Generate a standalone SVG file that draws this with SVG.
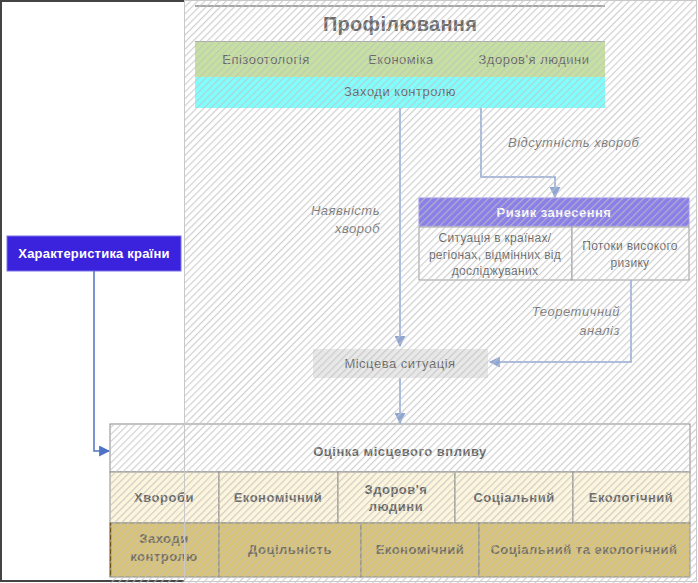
<svg xmlns="http://www.w3.org/2000/svg" width="698" height="583" viewBox="0 0 698 583">
<defs>
<pattern id="hatch" width="5" height="5" patternUnits="userSpaceOnUse" patternTransform="rotate(45)">
<line x1="0.6" y1="0" x2="0.6" y2="5" stroke="#c0c0c0" stroke-width="1.2" opacity="0.75"/>
</pattern>
<marker id="arr" viewBox="0 0 10 10" refX="9" refY="5" markerWidth="11" markerHeight="11" markerUnits="userSpaceOnUse" orient="auto">
<path d="M0,0 L10,5 L0,10 Z" fill="#8ea6d6"/>
</marker>
<marker id="arrD" viewBox="0 0 10 10" refX="9" refY="5" markerWidth="11" markerHeight="11" markerUnits="userSpaceOnUse" orient="auto">
<path d="M0,0 L10,5 L0,10 Z" fill="#4f73c4"/>
</marker>
<clipPath id="hclip">
<rect x="184" y="0" width="513" height="583"/>
<rect x="110" y="424" width="580" height="159"/>
</clipPath>
<style>
text{font-family:"Liberation Sans",Arial,sans-serif;fill:#666;letter-spacing:0.5px;}
.t{font-size:13px;text-anchor:middle;}
.s{font-size:12px;text-anchor:middle;letter-spacing:0.3px;}
.b{font-size:13px;font-weight:bold;text-anchor:middle;}
.i{font-size:13px;font-style:italic;fill:#777;}
.c{stroke:#8ea6d6;stroke-width:1.5;fill:none;}
.cell{stroke:#8c8c8c;stroke-width:1;}
.cr{fill:#fdf5dc;}
.gd{fill:#d9c377;}
.gt{fill:#77705e;}
</style>
</defs>
<rect x="0" y="0" width="698" height="583" fill="#fff"/>
<!-- left frame -->
<path d="M184,1 H1 V581 H184" fill="none" stroke="#444" stroke-width="2"/>

<g id="profiling">
<line x1="195" y1="6" x2="605" y2="6" stroke="#888" stroke-width="1.5"/>
<text x="400" y="31" style="font-size:20px;font-weight:bold;text-anchor:middle;fill:#6a6a6a;letter-spacing:0.3px">Профілювання</text>
<rect x="195" y="41" width="410" height="36" fill="#c5e0a0"/>
<line x1="195" y1="41.5" x2="605" y2="41.5" stroke="#aaa"/>
<text class="t" x="266" y="64">Епізоотологія</text>
<text class="t" x="401" y="64">Економіка</text>
<text class="t" x="534" y="64">Здоров'я людини</text>
<rect x="195" y="77" width="410" height="31" fill="#80ffff"/>
<text class="t" x="400" y="96">Заходи контролю</text>
</g>

<g id="risk">
<rect x="419" y="198" width="270" height="28" fill="#8a7fe8" stroke="#9a90ee"/>
<text class="b" x="554" y="217" style="fill:#fff">Ризик занесення</text>
<rect x="419" y="227" width="153" height="53" fill="#fff" stroke="#999"/>
<rect x="572" y="227" width="117" height="53" fill="#fff" stroke="#999"/>
<text class="s" x="495" y="242">Ситуація в країнах/</text>
<text class="s" x="495" y="259">регіонах, відмінних від</text>
<text class="s" x="495" y="275">досліджуваних</text>
<text class="s" x="630" y="250">Потоки високого</text>
<text class="s" x="630" y="267">ризику</text>
</g>

<g id="local">
<rect x="313" y="349" width="175" height="29" fill="#e8e8e8"/>
<text class="t" x="400" y="368">Місцева ситуація</text>
</g>

<g id="country">
<rect x="7" y="236" width="174" height="35" fill="#3b22dd" stroke="#7a72e8"/>
<text class="b" x="94" y="258" style="fill:#fff;letter-spacing:0.2px">Характеристика країни</text>
</g>

<g id="impact">
<rect x="110" y="424" width="580" height="48" fill="#fff" stroke="#888"/>
<text class="b" x="400" y="456">Оцінка місцевого впливу</text>
<rect class="cell cr" x="110" y="472" width="109" height="51"/>
<rect class="cell cr" x="219" y="472" width="119" height="51"/>
<rect class="cell cr" x="338" y="472" width="117" height="51"/>
<rect class="cell cr" x="455" y="472" width="118" height="51"/>
<rect class="cell cr" x="573" y="472" width="117" height="51"/>
<text class="b" x="164" y="502">Хвороби</text>
<text class="b" x="278" y="502">Економічний</text>
<text class="b" x="396" y="494">Здоров'я</text>
<text class="b" x="396" y="511">людини</text>
<text class="b" x="514" y="502">Соціальний</text>
<text class="b" x="631" y="502">Екологічний</text>
<rect class="cell gd" x="110" y="523" width="109" height="54"/>
<rect class="cell gd" x="219" y="523" width="142" height="54"/>
<rect class="cell gd" x="361" y="523" width="118" height="54"/>
<rect class="cell gd" x="479" y="523" width="211" height="54"/>
<line x1="110.5" y1="523" x2="110.5" y2="577" stroke="#6e5410" stroke-width="1.5"/>
<text class="b gt" x="164" y="543">Заходи</text>
<text class="b gt" x="164" y="561">контролю</text>
<text class="b gt" x="290" y="554">Доцільність</text>
<text class="b gt" x="420" y="554">Економічний</text>
<text class="b gt" x="584" y="554">Соціальний та екологічний</text>
</g>

<g id="connectors">
<path class="c" d="M400,108 V346" marker-end="url(#arr)"/>
<path class="c" d="M481,108 V177 H555 V197" marker-end="url(#arr)"/>
<path class="c" d="M631,280 V362 H490" marker-end="url(#arr)"/>
<path class="c" d="M400,378 V423" marker-end="url(#arr)"/>
<path d="M94,271 V451 H109" fill="none" stroke="#4f73c4" stroke-width="1.5" marker-end="url(#arrD)"/>
<text class="i" x="508" y="147">Відсутність хвороб</text>
<text class="i" x="380" y="215" text-anchor="end">Наявність</text>
<text class="i" x="380" y="233" text-anchor="end">хвороб</text>
<text class="i" x="620" y="316" text-anchor="end">Теоретичний</text>
<text class="i" x="620" y="335" text-anchor="end">аналіз</text>
</g>

<!-- hatch overlay -->
<rect x="0" y="0" width="698" height="583" fill="url(#hatch)" clip-path="url(#hclip)"/>
<rect x="184.5" y="0.5" width="512" height="581" fill="none" stroke="#c8c8c8"/>
</svg>
